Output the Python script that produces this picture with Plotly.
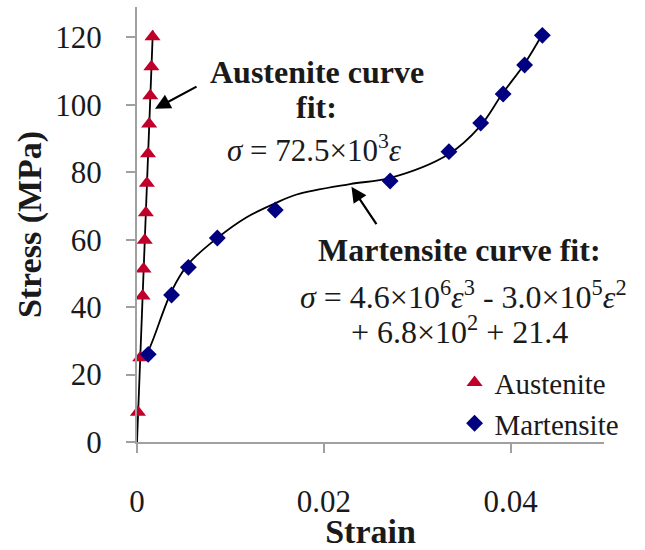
import plotly.graph_objects as go

# Data
aus_strain = [0.0001, 0.00035, 0.0006, 0.0007, 0.00083, 0.00095, 0.00106, 0.00118, 0.0013, 0.00142, 0.00154, 0.00166]
aus_stress = [8.8, 25.0, 43.3, 51.3, 59.8, 68.0, 76.7, 85.5, 94.3, 102.7, 111.3, 120.2]

mar_strain = [0.0012, 0.0037, 0.0055, 0.0086, 0.0148, 0.0271, 0.0334, 0.0368, 0.0392, 0.0415, 0.0434]
mar_stress = [26.0, 43.6, 51.8, 60.5, 68.8, 77.4, 86.1, 94.6, 103.2, 111.8, 120.6]

aus_fit_strain = [0.0, 0.0017]
aus_fit_stress = [0.0, 122.0]

mar_fit_strain = [0.00067, 0.0012, 0.0037, 0.0055, 0.0086, 0.0117, 0.0148, 0.0171, 0.0228, 0.0271, 0.0334, 0.0367, 0.0391, 0.0415, 0.0434]
mar_fit_stress = [25.1, 27.0, 44.7, 52.8, 60.5, 66.6, 70.8, 73.4, 76.5, 78.3, 85.4, 93.5, 103.2, 112.2, 120.9]

x_ticks = [0, 0.02, 0.04]
x_tick_text = ["0", "0.02", "0.04"]
y_ticks = [0, 20, 40, 60, 80, 100, 120]

FONT = "Liberation Serif, Times New Roman, serif"
TXT = "#1a1a1a"
AX = "#a0a0a0"

fig = go.Figure()
fig.add_trace(go.Scatter(x=aus_fit_strain, y=aus_fit_stress, mode="lines",
                         line=dict(color="black", width=1.8), showlegend=False, hoverinfo="skip"))
fig.add_trace(go.Scatter(x=mar_fit_strain, y=mar_fit_stress, mode="lines", line_shape="spline",
                         line=dict(color="black", width=1.8), showlegend=False, hoverinfo="skip"))
fig.add_trace(go.Scatter(x=aus_strain, y=aus_stress, mode="markers", name="Austenite",
                         marker=dict(symbol="triangle-up", size=14, color="#C0002A"), cliponaxis=False))
fig.add_trace(go.Scatter(x=mar_strain, y=mar_stress, mode="markers", name="Martensite",
                         marker=dict(symbol="diamond", size=13, color="#000080"), cliponaxis=False))

def txt(x, y, s, size, bold=False):
    fig.add_annotation(x=x, y=y, xref="x", yref="y", text=(f"<b>{s}</b>" if bold else s),
                       showarrow=False, xanchor="center", yanchor="middle",
                       font=dict(family=FONT, size=size, color=TXT))

txt(0.01925, 109.7, "Austenite curve", 32, True)
txt(0.01925, 99.4, "fit:", 32, True)
txt(0.0190, 87.0, "<i>σ</i> = 72.5×10<sup>3</sup><i>ε</i>", 31)
txt(0.03455, 56.9, "Martensite curve fit:", 32, True)
txt(0.0350, 43.7, "<i>σ</i> = 4.6×10<sup>6</sup><i>ε</i><sup>3</sup> - 3.0×10<sup>5</sup><i>ε</i><sup>2</sup>", 32)
txt(0.03455, 33.3, "+ 6.8×10<sup>2</sup> + 21.4", 32)

fig.add_annotation(x=0.00193, y=98.8, xref="x", yref="y", text="", showarrow=True,
                   ax=43, ay=-23, axref="pixel", ayref="pixel",
                   arrowhead=2, arrowsize=1.4, arrowwidth=2.2, arrowcolor="black")
fig.add_annotation(x=0.02296, y=75.7, xref="x", yref="y", text="", showarrow=True,
                   ax=26, ay=39, axref="pixel", ayref="pixel",
                   arrowhead=2, arrowsize=1.4, arrowwidth=2.2, arrowcolor="black")

fig.update_layout(
    width=645, height=550,
    margin=dict(l=137, r=41, t=7, b=105),
    plot_bgcolor="white", paper_bgcolor="white",
    font=dict(family=FONT, color=TXT),
    legend=dict(x=0.68, y=0.195, xanchor="left", yanchor="top",
                font=dict(family=FONT, size=29, color=TXT), bgcolor="rgba(0,0,0,0)"),
    xaxis=dict(range=[0, 0.05], tickvals=x_ticks, ticktext=x_tick_text,
               showgrid=False, zeroline=False, showline=True, linecolor=AX, linewidth=2,
               ticks="outside", ticklen=9, tickcolor=AX, tickwidth=2,
               tickfont=dict(family=FONT, size=31, color=TXT), ticklabelstandoff=22,
               title=dict(text="<b>Strain</b>", font=dict(family=FONT, size=34, color=TXT), standoff=0)),
    yaxis=dict(range=[0, 129], tickvals=y_ticks,
               showgrid=False, zeroline=False, showline=True, linecolor=AX, linewidth=2,
               ticks="outside", ticklen=9, tickcolor=AX, tickwidth=2,
               tickfont=dict(family=FONT, size=31, color=TXT), ticklabelstandoff=18,
               title=dict(text="<b>Stress (MPa)</b>", font=dict(family=FONT, size=34, color=TXT), standoff=3)),
)

fig.write_html("out.html")
